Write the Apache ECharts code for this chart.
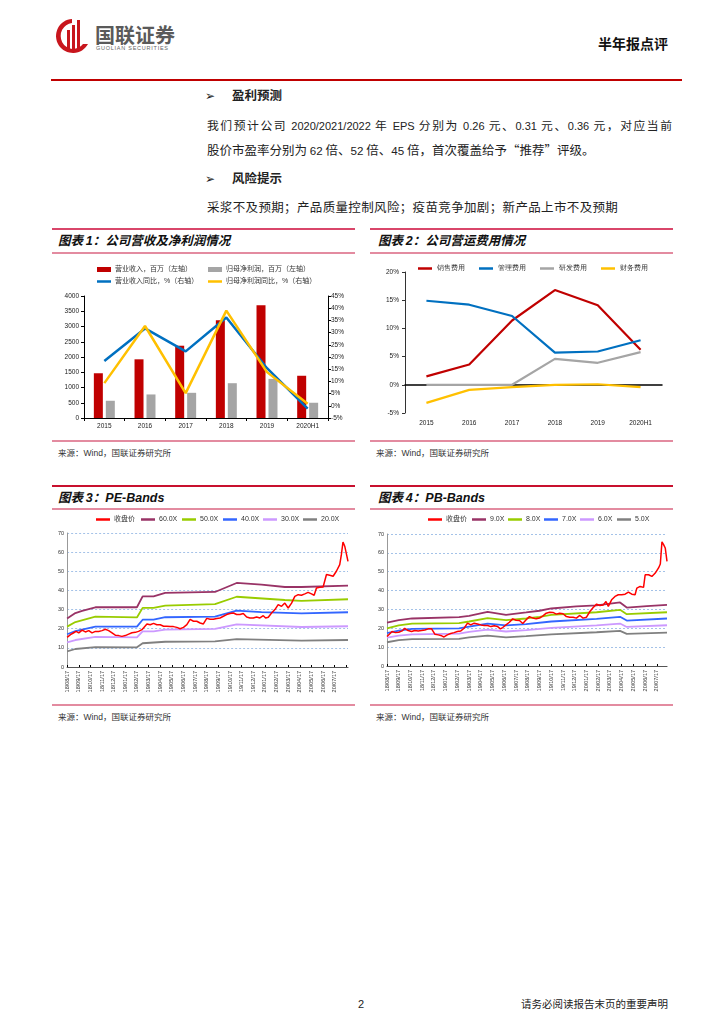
<!DOCTYPE html>
<html lang="zh-CN">
<head>
<meta charset="utf-8">
<script src="https://cdn.jsdelivr.net/npm/echarts@6.0.0/dist/echarts.min.js"></script>
<style>
html,body{margin:0;padding:0;background:#fff;}
body{width:724px;height:1024px;position:relative;overflow:hidden;font-family:"Noto Sans CJK SC","Liberation Sans",sans-serif;color:#222;}
.t{position:absolute;white-space:nowrap;line-height:1;}
.ln{position:absolute;height:1px;}
.ch{position:absolute;}
.num{font-family:"Liberation Sans",Arial,sans-serif;}
.bt .num{font-size:11.6px;}
.b1 .num{font-size:11px;}
.ttl{font-size:12.5px;font-weight:700;font-style:italic;color:#111;}
.src{font-size:8.5px;color:#333;}
</style>
</head>
<body>
<!-- header -->
<svg class="t" style="left:53px;top:18px" width="38" height="36" viewBox="0 0 38 36">
  <path d="M19 1 A17 17 0 1 0 35 26 L30 26 A12.5 13 0 1 1 19 5 Z" fill="#C8161D"/>
  <rect x="14" y="12" width="3" height="20" fill="#C8161D"/>
  <rect x="19" y="7" width="3" height="25" fill="#C8161D"/>
  <rect x="24" y="2" width="3" height="30" fill="#C8161D"/>
</svg>
<div class="t" style="left:95px;top:25px;font-size:20px;font-weight:700;color:#5a5a5a;">国联证券</div>
<div class="t num" style="left:96px;top:46px;font-size:5.5px;color:#666;letter-spacing:0.75px">GUOLIAN SECURITIES</div>
<div class="t" style="left:598px;top:36px;font-size:14px;font-weight:700;color:#111;">半年报点评</div>
<div class="ln" style="left:51px;top:79px;width:631px;height:2px;background:#C00000"></div>

<!-- body text -->
<div class="t" style="left:205px;top:89px;font-size:12px;">➢</div>
<div class="t" style="left:232px;top:89px;font-size:12.5px;font-weight:700;">盈利预测</div>
<div class="t b1" style="left:207px;top:119px;width:465px;font-size:11.8px;white-space:normal;height:13px;overflow:visible;text-align:justify;text-align-last:justify;">我们预计公司 <span class="num">2020/2021/2022</span> 年 <span class="num">EPS</span> 分别为 <span class="num">0.26</span> 元、<span class="num">0.31</span> 元、<span class="num">0.36</span> 元，对应当前</div>
<div class="t bt" style="left:207px;top:144px;font-size:12.5px;">股价市盈率分别为 <span class="num">62</span> 倍、<span class="num">52</span> 倍、<span class="num">45</span> 倍，首次覆盖给予“推荐”评级。</div>
<div class="t" style="left:205px;top:172px;font-size:12px;">➢</div>
<div class="t" style="left:232px;top:172px;font-size:12.5px;font-weight:700;">风险提示</div>
<div class="t" style="left:207px;top:201px;font-size:12.5px;letter-spacing:0.35px;">采浆不及预期；产品质量控制风险；疫苗竞争加剧；新产品上市不及预期</div>

<!-- chart frames -->
<div class="ln" style="left:52px;top:228px;width:303px;height:1.5px;background:#D9466A"></div>
<div class="ln" style="left:370px;top:228px;width:303px;height:1.5px;background:#D9466A"></div>
<div class="t ttl" style="left:58px;top:234px;">图表 <span class="num">1</span>：公司营收及净利润情况</div>
<div class="t ttl" style="left:378px;top:234px;">图表 <span class="num">2</span>：公司营运费用情况</div>
<div class="ln" style="left:52px;top:252px;width:303px;height:1.5px;background:#E38BA0"></div>
<div class="ln" style="left:370px;top:252px;width:303px;height:1.5px;background:#E38BA0"></div>

<div class="ln" style="left:52px;top:440px;width:303px;height:1.5px;background:#E38BA0"></div>
<div class="ln" style="left:370px;top:440px;width:303px;height:1.5px;background:#E38BA0"></div>
<div class="t src" style="left:58px;top:448px;">来源：<span class="num">Wind</span>，国联证券研究所</div>
<div class="t src" style="left:376px;top:448px;">来源：<span class="num">Wind</span>，国联证券研究所</div>

<div class="ln" style="left:52px;top:485px;width:303px;height:1.5px;background:#C8102E"></div>
<div class="ln" style="left:370px;top:485px;width:303px;height:1.5px;background:#C8102E"></div>
<div class="t ttl" style="left:58px;top:491px;">图表 <span class="num">3</span>：<span class="num">PE-Bands</span></div>
<div class="t ttl" style="left:378px;top:491px;">图表 <span class="num">4</span>：<span class="num">PB-Bands</span></div>
<div class="ln" style="left:52px;top:508px;width:303px;height:1.5px;background:#E38BA0"></div>
<div class="ln" style="left:370px;top:508px;width:303px;height:1.5px;background:#E38BA0"></div>

<div class="ln" style="left:52px;top:704px;width:303px;height:1.5px;background:#E38BA0"></div>
<div class="ln" style="left:370px;top:704px;width:303px;height:1.5px;background:#E38BA0"></div>
<div class="t src" style="left:58px;top:712px;">来源：<span class="num">Wind</span>，国联证券研究所</div>
<div class="t src" style="left:376px;top:712px;">来源：<span class="num">Wind</span>，国联证券研究所</div>

<!-- footer -->
<div class="t num" style="left:358px;top:999px;font-size:11px;">2</div>
<div class="t" style="left:521px;top:999px;font-size:10.5px;color:#222;">请务必阅读报告末页的重要声明</div>

<div id="c1" class="ch" style="left:55px;top:255px;width:300px;height:180px"></div>
<div id="c2" class="ch" style="left:370px;top:255px;width:302px;height:180px"></div>
<div id="c3" class="ch" style="left:55px;top:505px;width:300px;height:200px"></div>
<div id="c4" class="ch" style="left:370px;top:505px;width:302px;height:200px"></div>

<script>
// ---------- Chart 1 data ----------
const c1Years = ['2015','2016','2017','2018','2019','2020H1'];
const c1Names = ['营业收入，百万（左轴）','归母净利润，百万（左轴）','营业收入同比，%（右轴）','归母净利润同比，%（右轴）'];
const c1Revenue = [1467,1924,2370,3207,3696,1385];
const c1Profit = [565,772,826,1141,1283,500];
const c1RevYoY = [18.4,31.7,22.3,36.2,15.4,-1.2];
const c1ProfitYoY = [9.3,32.7,5.2,39.0,13.8,0.8];

// ---------- Chart 2 data ----------
const c2Years = ['2015','2016','2017','2018','2019','2020H1'];
const c2Names = ['销售费用','管理费用','研发费用','财务费用'];
const c2Sales = [1.5,3.6,11.4,16.8,14.1,6.2];
const c2Admin = [14.9,14.2,12.2,5.7,5.9,7.9];
const c2RD = [0,0,0,4.6,3.9,5.8];
const c2Fin = [-3.2,-0.9,-0.4,0,0.1,-0.4];

// ---------- Chart 3 (PE-Bands) data ----------
const peTicks = ['18/08/17','18/09/17','18/10/17','18/11/17','18/12/17','19/01/17','19/02/17','19/03/17','19/04/17','19/05/17','19/06/17','19/07/17',
                 '19/08/17','19/09/17','19/10/17','19/11/17','19/12/17','20/01/17','20/02/17','20/03/17','20/04/17','20/05/17','20/06/17','20/07/17'];
const peNames = ['收盘价','60.0X','50.0X','40.0X','30.0X','20.0X'];
// month offsets from first tick, and closing price
const peMonths = [0,0.29,0.57,0.77,1,1.29,1.57,1.86,2.14,2.43,2.71,3,3.29,3.57,3.86,4.14,4.43,4.71,5,5.29,5.57,5.86,6.14,6.43,6.57,6.86,
  7.14,7.43,7.71,8,8.29,8.57,8.86,9.14,9.43,9.71,10,10.29,10.57,10.86,11.14,11.43,11.71,12,12.29,12.57,12.86,13.14,13.43,13.71,14,14.29,
  14.57,14.86,15.14,15.43,15.71,16,16.29,16.57,16.86,17.06,17.29,17.57,17.86,18.14,18.43,18.71,19,19.29,19.57,19.86,20.14,20.43,20.71,
  21,21.23,21.43,21.71,22,22.29,22.57,22.86,23.14,23.43,23.57,23.71,23.86,24,24.14];
const pePrice = [15.5,16.9,17.9,18.6,17.8,19.3,18.3,19.0,17.8,18.6,18.6,19.0,19.7,19.0,17.8,16.6,16.4,16.0,16.4,17.2,17.9,18.1,18.6,19.5,20.4,22.5,
  22.1,22.8,22.1,22.1,21.3,21.3,21.1,21.1,20.7,20.0,20.7,22.1,24.9,23.9,23.9,23.0,22.5,25.4,24.9,24.9,25.3,25.6,26.5,27.4,27.9,28.2,
  27.4,27.4,27.9,26.1,25.6,25.6,26.1,25.6,26.8,25.6,26.0,28.2,30.0,32.6,31.7,33.4,30.8,33.4,36.9,37.8,37.5,38.2,39.0,
  38.2,37.5,41.3,41.6,41.8,48.3,47.9,47.4,50.0,53.5,58.7,65.3,63.1,62.2,55.2];
const pe60 = [[0,25.3],[0.71,28.2],[1.29,29.3],[2.43,31.2],[6,31.2],[6.49,36.9],[7.43,36.9],[8.43,38.7],[12.71,39.2],[14.57,43.9],[16.71,43.0],[18.71,41.8],[20.14,41.8],[24.14,42.5]];
const pe50 = [[0,21.1],[0.71,23.5],[2.43,26.3],[6,25.9],[6.49,30.9],[7.43,30.9],[8.43,32.1],[12.71,32.8],[14.57,36.7],[18.71,35.0],[20.14,34.5],[24.14,35.4]];
const pe40 = [[0,17.1],[0.71,18.8],[2.43,21.1],[6,21.1],[6.49,24.7],[7.43,24.7],[8.43,26.0],[12.71,26.3],[14.57,29.4],[16.71,28.7],[20.14,28.0],[24.14,28.6]];
const pe30 = [[0,12.9],[0.71,14.1],[2.43,15.7],[6,15.5],[6.49,18.6],[7.43,18.6],[8.43,19.5],[12.71,19.9],[14.57,22.3],[20.14,20.9],[24.14,21.3]];
const pe20 = [[0,8.2],[0.71,9.4],[2.43,10.4],[6,10.3],[6.49,12.4],[8.43,13.2],[12.71,13.4],[14.57,14.6],[20.14,13.8],[24.14,14.1]];

// ---------- Chart 4 (PB-Bands) data ----------
const pbTicks = ['18/08/17','18/09/17','18/10/17','18/11/17','18/12/17','19/01/17','19/02/17','19/03/17','19/04/17','19/05/17','19/06/17','19/07/17',
                 '19/08/17','19/09/17','19/10/17','19/11/17','19/12/17','20/01/17','20/02/17','20/03/17','20/04/17','20/05/17','20/06/17','20/07/17'];
const pbNames = ['收盘价','9.0X','8.0X','7.0X','6.0X','5.0X'];
const pbMonths = [0,0.2,0.43,0.71,1,1.29,1.51,1.8,2.09,2.37,2.66,2.94,3.23,3.51,3.8,4.09,4.37,4.66,4.86,5.14,5.43,5.71,6,6.29,6.57,6.86,
  7.14,7.43,7.71,8,8.29,8.57,8.86,9.14,9.43,9.66,9.86,10.14,10.43,10.71,11,11.29,11.57,11.86,12.14,12.43,12.71,13,13.29,13.57,13.86,
  14.14,14.43,14.71,15,15.29,15.57,15.86,16.14,16.43,16.71,17,17.29,17.57,17.86,18.14,18.43,18.66,18.86,19.14,19.43,19.71,20,20.29,
  20.57,20.86,21.14,21.29,21.57,21.86,22,22.29,22.57,22.86,23.14,23.29,23.43,23.57,23.71,23.86];
const pbPrice = [15.6,16.8,18.3,17.7,17.9,18.6,20.0,18.8,18.3,18.8,18.6,18.8,19.1,19.7,19.7,16.8,16.5,16.0,15.4,16.5,17.2,17.7,18.3,18.6,20.0,22.7,
  21.8,22.7,22.3,21.8,21.5,21.5,20.9,21.3,20.9,19.7,20.4,21.8,23.2,25.0,24.3,24.1,22.5,24.5,26.2,25.4,25.0,25.4,26.6,28.0,28.5,
  28.4,27.5,28.0,27.7,26.2,25.9,25.9,25.4,26.8,25.4,25.9,28.9,31.0,32.8,32.1,32.4,34.2,31.6,35.1,36.9,37.8,37.8,38.1,
  39.2,38.1,37.8,41.3,42.2,41.7,48.4,48.4,47.5,49.3,52.0,54.1,65.8,64.4,62.6,55.5];
const pb9 = [[0,23.0],[1,24.3],[2.14,25.2],[6.14,25.9],[7,26.6],[8.57,28.7],[10.14,27.1],[11.86,28.4],[13,29.3],[14,30.5],[16.14,31.6],[17.86,32.1],[19.86,33.7],[20.43,31.0],[22.14,31.7],[23.86,32.4]];
const pb8 = [[0,20.0],[1,21.5],[2.14,22.5],[6.14,22.7],[7,23.6],[8.57,25.4],[10.14,24.3],[11.86,25.2],[13,26.1],[14,27.1],[17.86,28.5],[19.86,29.8],[20.43,27.5],[23.86,28.5]];
const pb7 = [[0,17.4],[1,18.8],[2.14,19.7],[6.14,19.9],[7,20.9],[8.57,22.5],[10.14,21.5],[11.86,22.2],[14,23.6],[17.86,25.0],[19.86,26.1],[20.43,24.1],[23.86,25.2]];
const pb6 = [[0,15.1],[1,16.1],[2.14,16.8],[6.14,17.2],[7,18.1],[8.57,19.3],[10.14,18.3],[11.86,19.0],[14,20.2],[17.86,21.5],[19.86,22.5],[20.43,20.7],[23.86,21.6]];
const pb5 = [[0,12.6],[1,13.7],[2.14,14.2],[6.14,14.4],[7,15.2],[8.57,16.1],[10.14,15.2],[11.86,15.8],[14,16.8],[17.86,17.9],[19.86,18.6],[20.43,17.0],[23.86,17.7]];

// ---------- helpers ----------
const NUM = '"Liberation Sans","Noto Sans CJK SC",sans-serif';
function leg(name, left, top, h) {
  return { data:[name], left:left, top:top, padding:0, itemGap:0, icon:'rect', itemWidth:14, itemHeight:h,
           selectedMode:false, textStyle:{fontSize:7, color:'#333', fontFamily:NUM, padding:[0,0,0,-1]} };
}
function zip(xs, ys) { return xs.map((x, i) => [x, ys[i]]); }
const plain = (v) => String(v);

// ---------- Chart 1 ----------
const ch1 = echarts.init(document.getElementById('c1'));
ch1.setOption({
  animation:false,
  grid:{left:29,right:27,top:41,bottom:17},
  legend:[leg(c1Names[0],42,11,5),leg(c1Names[1],153,11,5),leg(c1Names[2],42,23,2.5),leg(c1Names[3],153,23,2.5)],
  xAxis:{type:'category',data:c1Years,
    axisLine:{lineStyle:{color:'#000',width:1}},axisTick:{show:true,length:3,lineStyle:{color:'#000'}},
    axisLabel:{fontSize:6.5,color:'#222',margin:5,fontFamily:NUM}},
  yAxis:[
    {type:'value',min:0,max:4000,interval:500,splitLine:{show:false},
     axisLine:{show:true,lineStyle:{color:'#000'}},axisTick:{show:true,length:3,lineStyle:{color:'#000'}},
     axisLabel:{fontSize:6.5,color:'#222',margin:5,fontFamily:NUM,formatter:plain}},
    {type:'value',min:-5,max:45,interval:5,position:'right',splitLine:{show:false},
     axisLine:{show:true,lineStyle:{color:'#000'}},axisTick:{show:true,length:3,lineStyle:{color:'#000'}},
     axisLabel:{fontSize:6.5,color:'#222',margin:3,formatter:(v)=>v+'%',fontFamily:NUM}}
  ],
  series:[
    {name:c1Names[0],type:'bar',data:c1Revenue,barWidth:9,barGap:'33%',itemStyle:{color:'#C00000'}},
    {name:c1Names[1],type:'bar',data:c1Profit,barWidth:9,itemStyle:{color:'#A5A5A5'}},
    {name:c1Names[2],type:'line',yAxisIndex:1,data:c1RevYoY,symbol:'none',lineStyle:{color:'#0070C0',width:2.5},itemStyle:{color:'#0070C0'}},
    {name:c1Names[3],type:'line',yAxisIndex:1,data:c1ProfitYoY,symbol:'none',lineStyle:{color:'#FFC000',width:2.5},itemStyle:{color:'#FFC000'}}
  ]
});

// ---------- Chart 2 ----------
const c2Colors = ['#C00000','#0070C0','#A5A5A5','#FFC000'];
const c2Data = [c2Sales,c2Admin,c2RD,c2Fin];
const ch2 = echarts.init(document.getElementById('c2'));
ch2.setOption({
  animation:false,
  grid:{left:35,right:10,top:17,bottom:22},
  legend:{data:c2Names,left:48,top:10,padding:0,itemGap:14,icon:'rect',itemWidth:14,itemHeight:2.5,selectedMode:false,
          textStyle:{fontSize:7,color:'#333'}},
  xAxis:{type:'category',data:c2Years,
    axisLine:{onZero:true,lineStyle:{color:'#000',width:1.5}},axisTick:{show:false},
    axisLabel:{fontSize:6.5,color:'#222',margin:7,fontFamily:NUM}},
  yAxis:{type:'value',min:-5,max:20,interval:5,splitLine:{show:false},
    axisLine:{show:true,lineStyle:{color:'#333'}},axisTick:{show:true,length:3,lineStyle:{color:'#333'}},
    axisLabel:{fontSize:6.5,color:'#222',margin:6,formatter:(v)=>v+'%',fontFamily:NUM}},
  series:c2Names.map((n,i)=>({name:n,type:'line',data:c2Data[i],symbol:'none',
    lineStyle:{color:c2Colors[i],width:2.2},itemStyle:{color:c2Colors[i]}}))
});

// ---------- Band charts ----------
function bandOption(o) {
  const names = o.names, colors = ['#FF0000','#993366','#99CC00','#3366FF','#CC99FF','#808080'];
  const series = [];
  o.bands.forEach((b, i) => series.push({name:names[i+1],type:'line',data:b,symbol:'none',
      lineStyle:{color:colors[i+1],width:1.8},itemStyle:{color:colors[i+1]},z:2}));
  series.push({name:names[0],type:'line',data:zip(o.months,o.price),symbol:'none',
      lineStyle:{color:colors[0],width:1.5},itemStyle:{color:colors[0]},z:3});
  return {
    animation:false,
    grid:o.grid,
    legend:names.map((n,i)=>leg(n,o.legLeft[i],11,2.5)),
    xAxis:{type:'value',min:0,max:o.max,interval:1,splitLine:{show:false},
      axisLine:{lineStyle:{color:'#555',width:1.2}},axisTick:{show:true,inside:true,length:2,lineStyle:{color:'#000'}},
      axisLabel:{rotate:90,fontSize:5.5,color:'#333',margin:4,fontFamily:NUM,showMaxLabel:false,
        formatter:(v)=>o.ticks[Math.round(v)]||''}},
    yAxis:{type:'value',min:0,max:70,interval:10,
      splitLine:{show:true,lineStyle:{type:[2,2],color:'#8DB3E2',width:0.8}},
      axisLine:{show:true,lineStyle:{color:'#999'}},axisTick:{show:false},
      axisLabel:{fontSize:5.5,color:'#333',margin:3,fontFamily:NUM}},
    series:series
  };
}
const ch3 = echarts.init(document.getElementById('c3'));
ch3.setOption(bandOption({names:peNames,ticks:peTicks,months:peMonths,price:pePrice,bands:[pe60,pe50,pe40,pe30,pe20],
  max:24.14,grid:{left:10,right:7,top:28,bottom:38},legLeft:[41,86,127,168,208,248]}));
const ch4 = echarts.init(document.getElementById('c4'));
ch4.setOption(bandOption({names:pbNames,ticks:pbTicks,months:pbMonths,price:pbPrice,bands:[pb9,pb8,pb7,pb6,pb5],
  max:23.86,grid:{left:17,right:5,top:29,bottom:39},legLeft:[58,102,138,174,210,247]}));
</script>
</body>
</html>
